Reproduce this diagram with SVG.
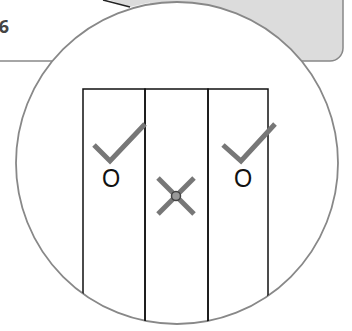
<svg xmlns="http://www.w3.org/2000/svg" width="352" height="331" viewBox="0 0 352 331">
<style>
.cols{fill:none;stroke:#111;stroke-width:1.5}
.chk{fill:none;stroke:#777;stroke-width:5;stroke-linecap:butt;stroke-linejoin:miter}
.o{font-family:"Liberation Sans",Arial,sans-serif;font-size:26px;fill:#111}
</style>
<defs>
<clipPath id="cc"><circle cx="177" cy="163" r="161"/></clipPath>
</defs>
<rect width="352" height="331" fill="#fff"/>
<g id="callout">
<path d="M103,-2 L130,7 L170,-2 Z" fill="#dcdcdc"/>
<rect x="150" y="-30" width="193" height="91" rx="13" fill="#dcdcdc"/>
<path d="M343,-2 V48 A13,13 0 0 1 330,61 H250" fill="none" stroke="#888" stroke-width="1.5"/>
<line x1="103" y1="0" x2="130" y2="7" stroke="#222" stroke-width="1.5"/>
</g>
<g id="label-box">
<line x1="0" y1="61" x2="60" y2="61" stroke="#888" stroke-width="1.5"/>
<text x="9" y="33" text-anchor="end" font-family="'Open Sans','Liberation Sans',sans-serif" font-weight="bold" font-size="18" fill="#444">6</text>
</g>
<g id="lens">
<circle cx="177" cy="163" r="161" fill="#fff" stroke="#888" stroke-width="1.8"/>
</g>
<g id="columns" clip-path="url(#cc)">
<rect class="cols" x="83" y="89" width="62" height="260"/>
<rect class="cols" x="145" y="89" width="63" height="260"/>
<rect class="cols" x="208" y="89" width="60" height="260"/>
</g>
<g id="left-check">
<polyline class="chk" points="94,145 110,161 145,124"/>
<text class="o" transform="translate(111,187) scale(0.9,1)" text-anchor="middle">O</text>
</g>
<g id="right-check">
<polyline class="chk" points="223,145 241,161 275,124"/>
<text class="o" transform="translate(243,187) scale(0.9,1)" text-anchor="middle">O</text>
</g>
<g id="middle-cross">
<line class="chk" x1="158" y1="178" x2="194" y2="214"/>
<line class="chk" x1="194" y1="178" x2="158" y2="214"/>
<circle cx="176" cy="196" r="4.5" fill="#999" stroke="#444" stroke-width="1.5"/>
</g>
</svg>
